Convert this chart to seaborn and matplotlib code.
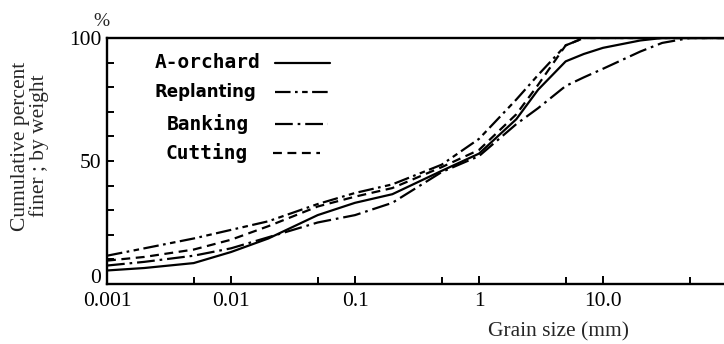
import matplotlib
matplotlib.use("Agg")
import matplotlib.pyplot as plt
from matplotlib.ticker import FixedLocator, NullFormatter
from matplotlib.transforms import ScaledTranslation
import pandas as pd
import seaborn as sns

# Grain-size distribution curves (cumulative percent finer by weight)
grain_mm = [0.001, 0.002, 0.005, 0.01, 0.02, 0.05, 0.1, 0.2, 0.5, 1,
            2, 3, 5, 7, 10, 20, 30, 50, 100]
a_orchard = [5.5, 6.5, 8.5, 13, 18.5, 28, 33, 36.5, 46, 53,
             67, 79, 90.5, 93.5, 96, 99, 100, 100, 100]
replanting = [11.5, 14.5, 18.5, 22, 25.5, 32.5, 37, 40.5, 48.5, 59,
              75, 85, 97, 100, 100, 100, 100, 100, 100]
banking = [7.5, 9, 11.5, 14.5, 19, 25, 28, 33, 45.5, 52,
           65, 71.5, 80.5, 84, 87.5, 94.5, 98, 100, 100]
cutting = [9.5, 11, 14, 18, 23.5, 31.5, 35.5, 39, 47.5, 54.5,
           69, 81, 97, 100, 100, 100, 100, 100, 100]

sites = ["A-orchard", "Replanting", "Banking", "Cutting"]
series = [a_orchard, replanting, banking, cutting]
dash_styles = {
    "A-orchard": "",
    "Replanting": (7, 2, 1.2, 2, 2.5, 2),
    "Banking": (8, 2.2, 1.2, 2.2),
    "Cutting": (4, 2.5),
}

df = pd.DataFrame({
    "grain": grain_mm * len(sites),
    "finer": [v for s in series for v in s],
    "site": [name for name in sites for _ in grain_mm],
})

sns.set_style("ticks")
serif = ["Liberation Serif", "DejaVu Serif"]
plt.rcParams["font.family"] = serif

fig = plt.figure(figsize=(7.24, 3.44), dpi=100)
ax = fig.add_axes([107 / 724, 1 - 284 / 344, 620 / 724, 246 / 344])

sns.lineplot(data=df, x="grain", y="finer", style="site", dashes=dash_styles,
             color="black", linewidth=1.6, legend=False, estimator=None,
             sort=True, ax=ax)

ax.set_xscale("log")
ax.set_xlim(0.001, 100)
ax.set_ylim(0, 100)

for side in ("left", "bottom", "top"):
    ax.spines[side].set_linewidth(1.7)
    ax.spines[side].set_color("black")
ax.spines["right"].set_visible(False)

ax.xaxis.set_major_locator(FixedLocator([0.001, 0.01, 0.1, 1, 10]))
ax.set_xticklabels(["0.001", "0.01", "0.1", "1", "10.0"])
ax.xaxis.set_minor_locator(FixedLocator([0.005, 0.05, 0.5, 5, 50]))
ax.xaxis.set_minor_formatter(NullFormatter())
ax.yaxis.set_major_locator(FixedLocator([0, 50, 100]))
ax.yaxis.set_minor_locator(FixedLocator([10, 20, 30, 40, 60, 70, 80, 90]))
ax.tick_params(axis="both", which="both", direction="in", width=1.4,
               color="black", labelsize=15.5, labelcolor="black")
ax.tick_params(axis="x", which="major", length=6, pad=6)
ax.tick_params(axis="x", which="minor", length=5)
ax.tick_params(axis="y", which="both", length=5, pad=4)

# lift the "0" label clear of the x tick labels
fig.canvas.draw()
zero_label = ax.get_yticklabels()[0]
zero_label.set_transform(zero_label.get_transform()
                         + ScaledTranslation(0, 8 / 100, fig.dpi_scale_trans))

ax.set_xlabel("")
ax.set_ylabel("")
fig.text(558 / 724, 1 - 332 / 344, "Grain size (mm)", ha="center",
         va="center", fontsize=15.5)
fig.text(30 / 724, 1 - 146 / 344, "Cumulative percent\nfiner ; by weight",
         rotation=90, ha="center", va="center", multialignment="center",
         fontsize=15.5, linespacing=1.0)
fig.text(101 / 724, 1 - 21 / 344, "%", ha="center", va="center",
         fontsize=14)

# Key: label text followed by a short sample of each line style
key_rows = [
    ("A-orchard", 63, 208, (275, 330), ["DejaVu Sans Mono"], 14),
    ("Replanting", 92, 205, (275, 330), ["DejaVu Sans"], 12),
    ("Banking", 124, 208, (275, 328), ["DejaVu Sans Mono"], 14),
    ("Cutting", 153, 207, (273, 320), ["DejaVu Sans Mono"], 14),
]
for name, ypx, xc, (x0, x1), fam, size in key_rows:
    ya = (284 - ypx) / 246
    ax.text((xc - 107) / 620, ya, name, transform=ax.transAxes,
            ha="center", va="center", family=fam, fontweight="bold",
            fontsize=size, color="black")
    ax.plot([(x0 - 107) / 620, (x1 - 107) / 620], [ya, ya],
            transform=ax.transAxes, color="black", linewidth=1.6,
            dashes=dash_styles[name] if dash_styles[name] else (None, None))

fig.savefig("out.png", dpi=100)
